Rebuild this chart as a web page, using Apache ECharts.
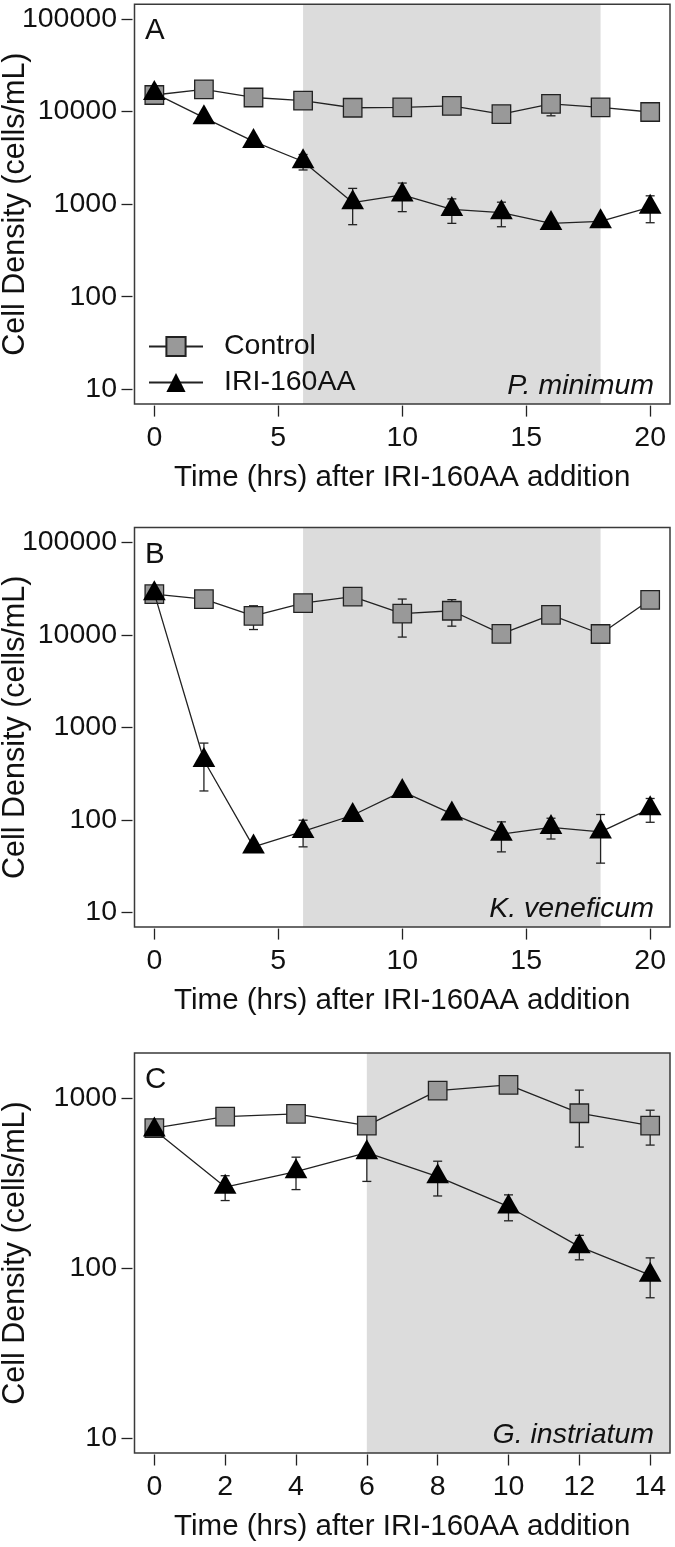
<!DOCTYPE html>
<html>
<head>
<meta charset="utf-8">
<script src="https://cdn.jsdelivr.net/npm/echarts@6/dist/echarts.min.js"></script>
<style>
  html, body { margin: 0; padding: 0; background: #fff; }
  #chart { width: 675px; height: 1547px; }
</style>
</head>
<body>
<div id="chart"></div>
<script>
// sampling times (hrs)
const timesAB = [0, 2, 4, 6, 8, 10, 12, 14, 16, 18, 20];
const timesC = [0, 2, 4, 6, 8, 10, 12, 14];

// A - P. minimum
const ctrlA = [15100, 17400, 14200, 13100, 11000, 11100, 11500, 9400, 12100, 11100, 9900];
const ctrlAErr = [0, 0, 0, 0, 0, 0, 0, 0, 3100, 0, 2000];
const iriA = [15800, 8600, 4760, 2890, 1040, 1260, 880, 810, 620, 650, 930];
const iriAErr = [0, 0, 0, 550, 440, 430, 260, 240, 0, 0, 300];

// B - K. veneficum
const ctrlB = [27500, 24300, 16000, 22000, 25900, 16900, 18200, 10250, 16450, 10200, 23900];
const ctrlBErr = [0, 0, 4600, 0, 0, 7450, 5800, 0, 0, 0, 0];
const iriB = [28000, 440, 51, 75, 112, 203, 116, 70, 83, 74, 132];
const iriBErr = [0, 235, 0, 24, 0, 0, 0, 25, 21, 40, 38];

// C - G. instriatum
const ctrlC = [667, 780, 809, 690, 1108, 1197, 816, 690];
const ctrlCErr = [0, 0, 0, 0, 0, 0, 300, 160];
const iriC = [651, 300, 370, 479, 346, 230, 134, 91];
const iriCErr = [0, 50, 80, 155, 80, 40, 22, 24];

const ticksAB = [0, 5, 10, 15, 20];
const ticksC = [0, 2, 4, 6, 8, 10, 12, 14];
const yTicksAB = [10, 100, 1000, 10000, 100000];
const yTicksC = [10, 100, 1000];

const panelLetters = ['A', 'B', 'C'];
const species = ['P. minimum', 'K. veneficum', 'G. instriatum'];
const shade = [[6, 18], [6, 18], [6, 'max']];

const FONT = "'Liberation Sans', Arial, Helvetica, sans-serif";
const FS = 28.5;
const INK = '#111';

const grids = [
    { left: 134.5, top: 4.2, width: 535.5, height: 399.9 },
    { left: 134.5, top: 527.5, width: 535.5, height: 399.6 },
    { left: 134.5, top: 1053, width: 535.5, height: 400 }
];
const xRanges = [[-0.8, 20.8], [-0.8, 20.8], [-0.56, 14.56]];
const yRanges = [
    [Math.pow(10, 0.84), Math.pow(10, 5.16)],
    [Math.pow(10, 0.84), Math.pow(10, 5.16)],
    [Math.pow(10, 0.9128), Math.pow(10, 3.266)]
];

function pairs(xs, ys) {
    return xs.map((x, i) => [x, ys[i]]);
}
function triples(xs, ys, es) {
    return xs.map((x, i) => [x, ys[i], es[i]]);
}

function renderErr(params, api) {
    const x = api.value(0), y = api.value(1), e = api.value(2);
    if (!e) return;
    const hi = api.coord([x, y + e]);
    const lo = api.coord([x, y - e]);
    const w = 4.5;
    const st = { stroke: '#222', lineWidth: 1.3 };
    return {
        type: 'group',
        children: [
            { type: 'line', shape: { x1: hi[0], y1: hi[1], x2: lo[0], y2: lo[1] }, style: st },
            { type: 'line', shape: { x1: hi[0] - w, y1: hi[1], x2: hi[0] + w, y2: hi[1] }, style: st },
            { type: 'line', shape: { x1: lo[0] - w, y1: lo[1], x2: lo[0] + w, y2: lo[1] }, style: st }
        ]
    };
}

const panels = [
    { t: timesAB, c: ctrlA, ce: ctrlAErr, r: iriA, re: iriAErr, xt: ticksAB, yt: yTicksAB },
    { t: timesAB, c: ctrlB, ce: ctrlBErr, r: iriB, re: iriBErr, xt: ticksAB, yt: yTicksAB },
    { t: timesC, c: ctrlC, ce: ctrlCErr, r: iriC, re: iriCErr, xt: ticksC, yt: yTicksC }
];

const xAxes = [], yAxes = [], series = [], graphics = [];

panels.forEach((p, i) => {
    xAxes.push({
        type: 'value', gridIndex: i, min: xRanges[i][0], max: xRanges[i][1],
        offset: 1.5,
        axisLine: { show: false, onZero: false },
        splitLine: { show: false },
        axisTick: { show: true, inside: false, length: 11, customValues: p.xt, lineStyle: { color: '#222', width: 1.3 } },
        axisLabel: { customValues: p.xt, margin: 18, fontSize: FS, fontFamily: FONT, color: INK },
        name: 'Time (hrs) after IRI-160AA addition',
        nameLocation: 'middle', nameGap: 57, nameMoveOverlap: false,
        nameTextStyle: { fontSize: 29.5, fontFamily: FONT, color: INK }
    });
    yAxes.push({
        type: 'log', logBase: 10, gridIndex: i, min: yRanges[i][0], max: yRanges[i][1],
        offset: 2,
        axisLine: { show: false, onZero: false },
        splitLine: { show: false },
        axisTick: { show: true, inside: false, length: 11, customValues: p.yt, lineStyle: { color: '#222', width: 1.3 } },
        axisLabel: {
            customValues: p.yt, margin: 15.5, fontSize: FS, fontFamily: FONT, color: INK,
            formatter: v => String(Math.round(v))
        },
        name: 'Cell Density (cells/mL)',
        nameLocation: 'middle', nameGap: 101, nameMoveOverlap: false,
        nameTextStyle: { fontSize: 30.5, fontFamily: FONT, color: INK }
    });

    // shaded treatment window
    series.push({
        type: 'line', xAxisIndex: i, yAxisIndex: i, data: [], silent: true, z: 0,
        markArea: {
            silent: true,
            itemStyle: { color: '#dcdcdc' },
            data: [[{ xAxis: shade[i][0] }, { xAxis: shade[i][1] }]]
        }
    });
    series.push({
        type: 'custom', xAxisIndex: i, yAxisIndex: i, z: 1, silent: true,
        encode: { x: 0, y: 1 },
        renderItem: renderErr,
        data: triples(p.t, p.c, p.ce)
    });
    series.push({
        type: 'custom', xAxisIndex: i, yAxisIndex: i, z: 1, silent: true,
        encode: { x: 0, y: 1 },
        renderItem: renderErr,
        data: triples(p.t, p.r, p.re)
    });
    series.push({
        name: 'Control', type: 'line', xAxisIndex: i, yAxisIndex: i, z: 2,
        data: pairs(p.t, p.c),
        symbol: 'rect', symbolSize: 18.5, showAllSymbol: true,
        lineStyle: { color: '#222', width: 1.3 },
        itemStyle: { color: '#999', borderColor: '#222', borderWidth: 1.3 },
        animation: false
    });
    series.push({
        name: 'IRI-160AA', type: 'line', xAxisIndex: i, yAxisIndex: i, z: 3,
        data: pairs(p.t, p.r),
        symbol: 'triangle', symbolSize: [22.7, 20], symbolOffset: [0, -3.3], showAllSymbol: true,
        lineStyle: { color: '#222', width: 1.3 },
        itemStyle: { color: '#000', borderColor: '#000', borderWidth: 0 },
        animation: false
    });

    const g = grids[i];
    graphics.push({
        type: 'text', x: g.left + 10.5, y: g.top + 27, z: 20,
        style: { text: panelLetters[i], font: '29.5px ' + FONT, fill: INK, verticalAlign: 'middle', align: 'left' }
    });
    graphics.push({
        type: 'text', x: g.left + g.width - 16, y: g.top + g.height - 18, z: 20,
        style: { text: species[i], font: 'italic ' + FS + 'px ' + FONT, fill: INK, verticalAlign: 'middle', align: 'right' }
    });
});

const chart = echarts.init(document.getElementById('chart'), null, { renderer: 'canvas' });
chart.setOption({
    backgroundColor: '#fff',
    animation: false,
    grid: grids.map(g => Object.assign({
        show: true, z: 5, containLabel: false, outerBoundsMode: 'none',
        borderColor: '#3a3a3a', borderWidth: 1.5, backgroundColor: 'transparent'
    }, g)),
    xAxis: xAxes,
    yAxis: yAxes,
    legend: {
        data: ['Control', 'IRI-160AA'],
        orient: 'vertical',
        left: 143, top: 327,
        itemWidth: 54, itemHeight: 24, itemGap: 7,
        selectedMode: false,
        textStyle: { fontSize: FS, lineHeight: 24, fontFamily: FONT, color: INK, padding: [0, 0, 0, 16] }
    },
    graphic: graphics,
    series: series
});
</script>
</body>
</html>
